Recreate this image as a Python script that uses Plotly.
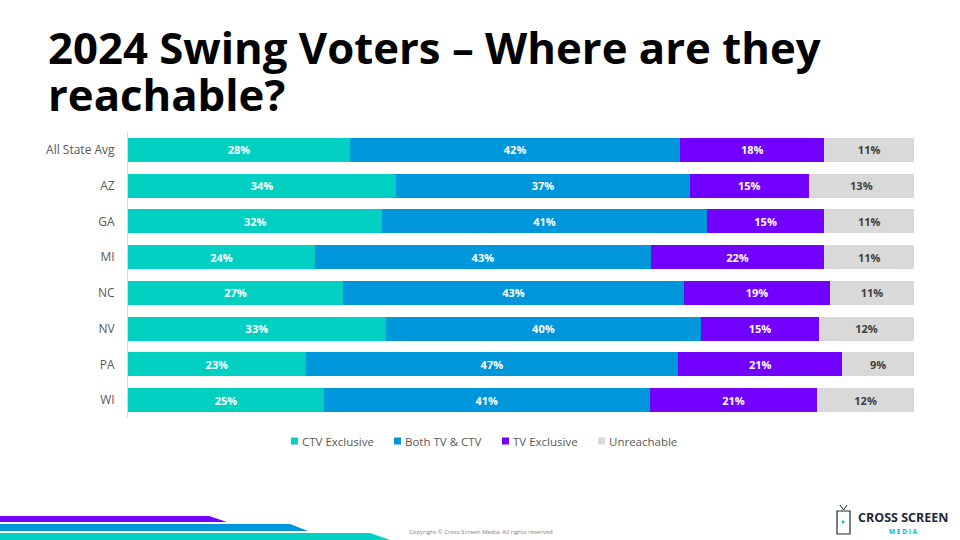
import plotly.graph_objects as go

categories = ["All State Avg", "AZ", "GA", "MI", "NC", "NV", "PA", "WI"]
ctv_exclusive = [28.2, 34.1, 32.4, 23.8, 27.4, 32.8, 22.6, 24.9]
both_tv_ctv = [42.0, 37.4, 41.3, 42.7, 43.4, 40.1, 47.3, 41.4]
tv_exclusive = [18.3, 15.1, 15.0, 22.1, 18.6, 15.0, 20.9, 21.3]
unreachable = [11.4, 13.4, 11.4, 11.4, 10.7, 12.1, 9.1, 12.3]

series_names = ["CTV Exclusive", "Both TV & CTV", "TV Exclusive", "Unreachable"]
series_values = [ctv_exclusive, both_tv_ctv, tv_exclusive, unreachable]
series_colors = ["#00CFC1", "#0096DC", "#7100FF", "#D9D9D9"]
text_colors = ["#FFFFFF", "#FFFFFF", "#FFFFFF", "#404040"]
legend_x = [291, 394, 502, 598]  # left edge of each legend swatch (px)

W, H = 960, 540
L, R, T, B = 128, 914, 132, 418


def px(x):
    return (x - L) / (R - L)


def py(y):
    return (B - y) / (B - T)


fig = go.Figure()
for name, vals, col, tcol in zip(series_names, series_values, series_colors, text_colors):
    fig.add_trace(go.Bar(
        y=categories, x=vals, name=name, orientation="h",
        marker=dict(color=col, line=dict(width=0)),
        text=[f"{round(v)}%" for v in vals], texttemplate="%{text}",
        textposition="inside", insidetextanchor="middle", textangle=0,
        textfont=dict(family="Open Sans", size=11, color=tcol, weight="bold"),
        hoverinfo="skip", showlegend=False,
    ))

fig.update_layout(
    width=W, height=H,
    barmode="stack", barnorm="percent", bargap=0.33,
    margin=dict(l=L, r=W - R, t=T, b=H - B, pad=0),
    paper_bgcolor="white", plot_bgcolor="white",
    font=dict(family="Open Sans", color="#595959"),
    uniformtext=dict(mode="show", minsize=11),
    showlegend=False,
    xaxis=dict(range=[0, 100], visible=False, fixedrange=True),
    yaxis=dict(autorange="reversed", showgrid=False, zeroline=False, showline=True,
               linecolor="#D9D9D9", linewidth=1, ticks="", ticklen=0,
               tickfont=dict(family="Open Sans", size=12, color="#595959"),
               ticklabelstandoff=10, fixedrange=True),
)

annotations = [
    dict(text="2024 Swing Voters – Where are they", x=px(46), y=py(47), xanchor="left", yanchor="middle",
         font=dict(family="Open Sans", size=43.7, color="#000000", weight="bold")),
    dict(text="reachable?", x=px(46), y=py(94), xanchor="left", yanchor="middle",
         font=dict(family="Open Sans", size=43.7, color="#000000", weight="bold")),
    dict(text="Copyright © Cross Screen Media. All rights reserved", x=px(481), y=py(532),
         xanchor="center", yanchor="middle", font=dict(family="Open Sans", size=6, color="#7F7F7F")),
    dict(text="CROSS SCREEN", x=px(903), y=py(517), xanchor="center", yanchor="middle",
         font=dict(family="Open Sans", size=12.5, color="#1C2A3A", weight="bold")),
    dict(text="M E D I A", x=px(903), y=py(531), xanchor="center", yanchor="middle",
         font=dict(family="Open Sans", size=6.5, color="#00BFC0", weight="bold")),
]
for name, lx in zip(series_names, legend_x):
    annotations.append(dict(text=name, x=px(lx + 9), y=py(441), xanchor="left", yanchor="middle",
                            font=dict(family="Open Sans", size=11.5, color="#595959")))
for a in annotations:
    a.update(xref="paper", yref="paper", showarrow=False)
fig.update_layout(annotations=annotations)


def poly(points, color):
    d = "M " + " L ".join(f"{px(x)},{py(y)}" for x, y in points) + " Z"
    return dict(type="path", xref="paper", yref="paper", path=d,
                fillcolor=color, line=dict(width=0), layer="above")


shapes = [
    poly([(0, 516), (209, 516), (227, 522), (0, 522)], "#7100FF"),
    poly([(0, 524), (290, 524), (308, 531), (0, 531)], "#0096DC"),
    poly([(0, 533), (370, 533), (390, 540), (0, 540)], "#00CFC1"),
    # logo TV icon
    dict(type="rect", xref="paper", yref="paper", x0=px(837), x1=px(850), y0=py(511), y1=py(534),
         line=dict(color="#1C2A3A", width=1.2), fillcolor="white", layer="above"),
    dict(type="line", xref="paper", yref="paper", x0=px(840), x1=px(843.5), y0=py(505), y1=py(510),
         line=dict(color="#1C2A3A", width=1)),
    dict(type="line", xref="paper", yref="paper", x0=px(847), x1=px(843.5), y0=py(505), y1=py(510),
         line=dict(color="#1C2A3A", width=1)),
    poly([(842, 520), (845, 522), (842, 524)], "#00BFC0"),
]
for col, lx in zip(series_colors, legend_x):
    shapes.append(dict(type="rect", xref="paper", yref="paper", x0=px(lx), x1=px(lx + 7),
                       y0=py(437.5), y1=py(444.5), fillcolor=col, line=dict(width=0)))
fig.update_layout(shapes=shapes)

fig.write_html("out.html", config={"displayModeBar": False},
               post_script="document.body.style.margin='0';document.body.style.overflow='hidden';")
